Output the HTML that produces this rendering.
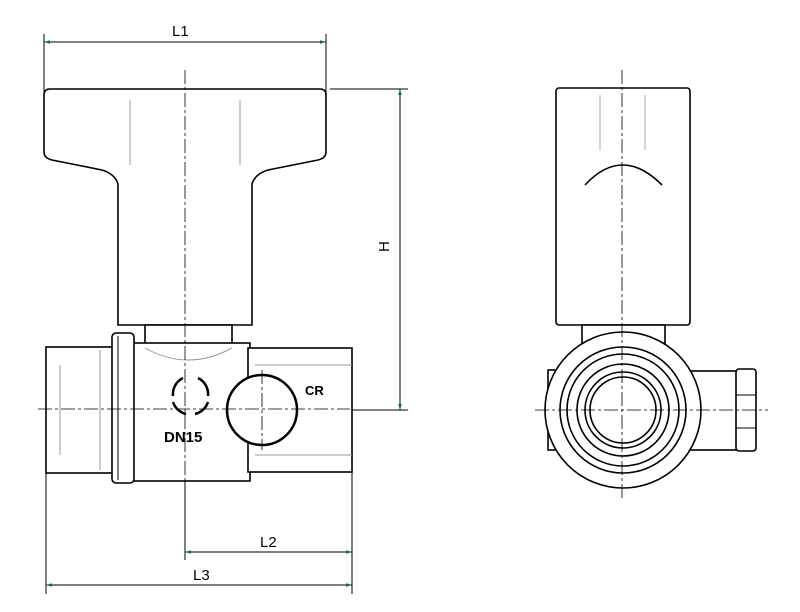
<!DOCTYPE html>
<html><head><style>html,body{margin:0;padding:0;background:#fff}svg{display:block}</style></head>
<body>
<svg width="800" height="612" viewBox="0 0 800 612" xmlns="http://www.w3.org/2000/svg" font-family="Liberation Sans, sans-serif">
<defs>
<marker id="a" viewBox="0 0 10 10" refX="10" refY="5" markerWidth="8" markerHeight="6" orient="auto-start-reverse"><path d="M0,2 L10,5 L0,8 z" fill="#1a6a3a"/></marker>
</defs>
<g stroke="#000" fill="none" stroke-width="1">
<!-- dimension extension lines -->
<line x1="44" y1="34" x2="44" y2="92"/>
<line x1="326" y1="34" x2="326" y2="92"/>
<line x1="330" y1="89" x2="408" y2="89"/>
<line x1="352" y1="410" x2="408" y2="410"/>
<line x1="46" y1="470" x2="46" y2="594"/>
<line x1="352" y1="470" x2="352" y2="594"/>
<line x1="185" y1="470" x2="185" y2="560"/>
<!-- dim lines -->
<line x1="44" y1="42" x2="326" y2="42" marker-start="url(#a)" marker-end="url(#a)"/>
<line x1="400" y1="89" x2="400" y2="410" marker-start="url(#a)" marker-end="url(#a)"/>
<line x1="185" y1="552" x2="352" y2="552" marker-start="url(#a)" marker-end="url(#a)"/>
<line x1="46" y1="585" x2="352" y2="585" marker-start="url(#a)" marker-end="url(#a)"/>
</g>
<g fill="#000" font-size="15">
<text x="172" y="36">L1</text>
<text x="260" y="547">L2</text>
<text x="193" y="580">L3</text>
<text x="0" y="0" transform="translate(389,252) rotate(-90)">H</text>
</g>
<g stroke="#000" fill="#fff" stroke-width="1.6">
<!-- left handle -->
<path d="M50,89 L320,89 Q326,89 326,95 L326,152 Q326,158 318,160 L268,170 Q255,174 252,184 L252,325 L118,325 L118,184 Q115,174 102,170 L52,160 Q44,158 44,152 L44,95 Q44,89 50,89 Z"/>
<!-- body -->
<rect x="145" y="325" width="87" height="22"/>
<rect x="46" y="347" width="68" height="126"/>
<rect x="133" y="343" width="117" height="138"/>
<rect x="248" y="348" width="104" height="124"/>
<rect x="112" y="333" width="22" height="150" rx="4"/>
<line x1="118" y1="336" x2="118" y2="480" stroke-width="1"/>
<circle cx="262" cy="410" r="35" stroke-width="2.5"/>
</g>
<g stroke="#999" fill="none" stroke-width="1">
<line x1="130" y1="100" x2="130" y2="165"/><line x1="240" y1="100" x2="240" y2="165"/>
<line x1="60" y1="365" x2="60" y2="455"/><line x1="100" y1="350" x2="100" y2="470"/>
<line x1="255" y1="365" x2="352" y2="365"/><line x1="255" y1="455" x2="352" y2="455"/>
<path d="M145,348 Q188,372 232,348"/>
</g>
<!-- logo -->
<g stroke="#000" stroke-width="2.5" fill="none">
<path d="M183,378 A18,18 0 0 0 173,396"/><path d="M198,378 A18,18 0 0 1 208,396"/>
<path d="M173,402 A18,18 0 0 0 186,414"/><path d="M208,402 A18,18 0 0 1 195,414"/>
</g>
<text x="164" y="442" font-size="15" font-weight="bold">DN15</text>
<text x="305" y="395" font-size="13" font-weight="bold">CR</text>
<!-- right view -->
<g stroke="#000" fill="#fff" stroke-width="1.6">
<rect x="556" y="88" width="134" height="237" rx="3"/>
<rect x="582" y="325" width="83" height="18"/>
<rect x="548" y="370" width="12" height="80"/>
<rect x="690" y="371" width="48" height="79"/>
<rect x="736" y="369" width="20" height="82" rx="3"/>
<circle cx="623" cy="410" r="78"/>
<circle cx="623" cy="410" r="63"/>
<circle cx="623" cy="410" r="56"/>
<circle cx="623" cy="410" r="46"/>
<circle cx="623" cy="410" r="38"/>
<circle cx="623" cy="410" r="33"/>
<line x1="736" y1="395" x2="756" y2="395" stroke-width="1"/>
<line x1="736" y1="428" x2="756" y2="428" stroke-width="1"/>
<path d="M585,185 Q622,145 662,185" fill="none"/>
</g>
<g stroke="#aaa" stroke-width="1"><line x1="600" y1="95" x2="600" y2="150"/><line x1="645" y1="95" x2="645" y2="150"/></g>
<!-- centerlines -->
<g stroke="#000" stroke-width="0.8" stroke-dasharray="14,3,3,3" fill="none">
<line x1="185" y1="70" x2="185" y2="510"/>
<line x1="38" y1="409" x2="350" y2="409"/>
<line x1="262" y1="370" x2="262" y2="450"/>
<line x1="622" y1="70" x2="622" y2="500"/>
<line x1="535" y1="410" x2="768" y2="410"/>
</g>
</svg>
</body></html>
